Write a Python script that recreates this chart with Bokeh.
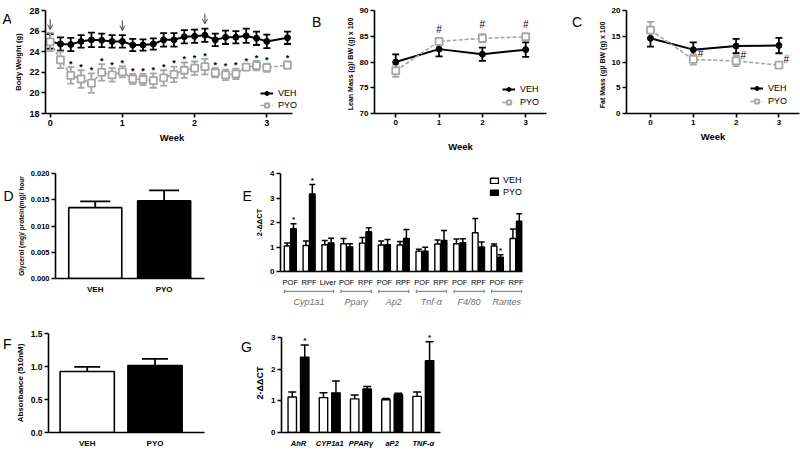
import numpy as np
from bokeh.plotting import figure
from bokeh.models import (ColumnDataSource, Range1d, FixedTicker, Whisker, TeeHead,
                          Arrow, OpenHead, Legend, LegendItem, NumeralTickFormatter)
from bokeh.layouts import row, column
from bokeh.embed import file_html
from bokeh.resources import INLINE
from bokeh.core.properties import value

FONT = "Liberation Sans"
BLACK = "#000000"
GREY = "#a6a6a6"

# ---------------- data ----------------
# Panel A: body weight, daily
a_days = [0, 1, 2, 3, 4, 5, 6, 7, 8, 9, 10, 11, 12, 13, 14, 15, 16, 17, 18, 19, 20, 21, 23]
a_week_ticks = [0, 1, 2, 3]
a_y_ticks = [18, 20, 22, 24, 26, 28]
a_veh = [25.0, 24.75, 24.7, 25.0, 25.15, 25.1, 25.0, 25.0, 24.65, 24.65, 24.75, 25.15,
         25.15, 25.45, 25.5, 25.6, 25.15, 25.4, 25.4, 25.55, 25.3, 25.0, 25.35]
a_veh_err = [0.7, 0.65, 0.65, 0.6, 0.7, 0.65, 0.6, 0.6, 0.6, 0.55, 0.55, 0.65,
             0.65, 0.65, 0.65, 0.65, 0.6, 0.65, 0.6, 0.7, 0.65, 0.65, 0.6]
a_pyo = [24.95, 23.2, 21.7, 21.35, 20.95, 22.0, 21.75, 22.05, 21.35, 21.3, 21.2, 21.45,
         21.8, 22.2, 22.4, 22.55, 21.95, 21.75, 21.85, 22.5, 22.65, 22.45, 22.7]
a_pyo_err = [0.9, 0.8, 0.8, 0.85, 0.95, 0.8, 0.65, 0.55, 0.5, 0.55, 0.7, 0.75,
             0.75, 0.75, 0.65, 0.75, 0.45, 0.5, 0.5, 0.3, 0.45, 0.4, 0.35]
a_pyo_sig = [0, 0, 1, 1, 1, 1, 1, 1, 1, 1, 1, 1, 1, 1, 1, 1, 1, 1, 1, 1, 1, 1, 1]
a_arrow_days = [0, 7, 15]

# Panel B: lean mass
b_weeks = [0, 1, 2, 3]
b_y_ticks = [70, 75, 80, 85, 90]
b_veh = [80.0, 82.5, 81.5, 82.4]
b_veh_err = [1.5, 1.4, 1.3, 1.4]
b_pyo = [78.3, 84.0, 84.6, 84.9]
b_pyo_err = [1.2, 0.6, 0.8, 0.5]
b_pyo_sig = [0, 1, 1, 1]

# Panel C: fat mass
c_weeks = [0, 1, 2, 3]
c_y_ticks = [0, 5, 10, 15, 20]
c_veh = [14.6, 12.4, 13.1, 13.2]
c_veh_err = [1.6, 1.4, 1.4, 1.5]
c_pyo = [16.2, 10.5, 10.2, 9.4]
c_pyo_err = [1.6, 1.0, 1.0, 0.6]
c_pyo_sig = [0, 1, 1, 1]

# Panel D: glycerol release
d_cats = ["VEH", "PYO"]
d_vals = [0.0135, 0.0148]
d_err = [0.0012, 0.0020]
d_y_ticks = [0.0, 0.005, 0.010, 0.015, 0.020]

# Panel E: gene expression by depot
e_tissues = ["POF", "RPF", "Liver", "POF", "RPF", "POF", "RPF", "POF", "RPF", "POF", "RPF", "POF", "RPF"]
e_veh = [1.04, 1.06, 1.09, 1.13, 1.16, 1.08, 1.08, 0.83, 1.12, 1.13, 1.58, 1.04, 1.35]
e_veh_err = [0.12, 0.18, 0.18, 0.22, 0.23, 0.16, 0.14, 0.08, 0.17, 0.20, 0.58, 0.08, 0.38]
e_pyo = [1.75, 3.17, 1.17, 1.00, 1.62, 1.09, 1.35, 0.83, 1.27, 1.18, 1.00, 0.58, 2.05]
e_pyo_err = [0.20, 0.38, 0.19, 0.13, 0.17, 0.22, 0.36, 0.16, 0.40, 0.16, 0.20, 0.10, 0.31]
e_pyo_sig = [1, 1, 0, 0, 0, 0, 0, 0, 0, 0, 0, 1, 0]
e_genes = ["Cyp1a1", "Pparγ", "Ap2", "Tnf-α", "F4/80", "Rantes"]
e_gene_first = [0, 3, 5, 7, 9, 11]
e_gene_last = [2, 4, 6, 8, 10, 12]
e_y_ticks = [0, 1, 2, 3, 4]

# Panel F: absorbance
f_cats = ["VEH", "PYO"]
f_vals = [0.925, 1.015]
f_err = [0.07, 0.10]
f_y_ticks = [0.0, 0.5, 1.0, 1.5]

# Panel G: gene expression
g_genes = ["AhR", "CYP1a1", "PPARγ", "aP2", "TNF-α"]
g_veh = [1.12, 1.10, 1.06, 1.03, 1.14]
g_veh_err = [0.16, 0.15, 0.12, 0.04, 0.14]
g_pyo = [2.37, 1.25, 1.37, 1.19, 2.26]
g_pyo_err = [0.39, 0.37, 0.08, 0.05, 0.60]
g_pyo_sig = [1, 0, 0, 0, 1]
g_y_ticks = [0, 1, 2, 3]

BAR_FILL = {"VEH": "white", "PYO": "black"}


def make_fig(w, h, bl, br, bt, bb, xr, yr, tick_size="8px", label_size="7px"):
    p = figure(width=w, height=h, x_range=Range1d(*xr), y_range=Range1d(*yr),
               output_backend="svg", toolbar_location=None,
               min_border_left=bl, min_border_right=br, min_border_top=bt,
               min_border_bottom=bb)
    p.outline_line_color = None
    p.grid.visible = False
    for ax in p.axis:
        ax.axis_line_width = 1.6
        ax.axis_line_color = BLACK
        ax.major_tick_line_width = 1.6
        ax.major_tick_line_color = BLACK
        ax.major_tick_out = 4
        ax.major_tick_in = 0
        ax.minor_tick_line_color = None
        ax.major_label_text_font = FONT
        ax.major_label_text_font_style = "bold"
        ax.major_label_text_font_size = tick_size
        ax.major_label_text_color = BLACK
        ax.major_label_standoff = 2
        ax.axis_label_text_font = FONT
        ax.axis_label_text_font_style = "bold"
        ax.axis_label_text_font_size = label_size
        ax.axis_label_text_color = BLACK
        ax.axis_label_standoff = 3
    p.xaxis.axis_label_text_font_size = "9.5px"
    return p


def letter_strip(w, h, txt, x, y):
    s = figure(width=w, height=h, x_range=Range1d(0, w), y_range=Range1d(h, 0),
               output_backend="svg", toolbar_location=None, x_axis_type=None, y_axis_type=None,
               min_border_left=0, min_border_right=0, min_border_top=0, min_border_bottom=0)
    s.outline_line_color = None
    s.text(x=[x], y=[y], text=[txt], text_font=value(FONT), text_font_size="14px",
           text_align="left", text_baseline="top", text_color=BLACK)
    return s


def err_bars(p, x, mean, err, color, cap, both=True, lw=1.8):
    m = np.array(mean, dtype=float)
    e = np.array(err, dtype=float)
    src = ColumnDataSource(dict(x=list(x), lo=list(m - e) if both else list(m), hi=list(m + e)))
    wk = Whisker(base="x", lower="lo", upper="hi", source=src, line_color=color, line_width=lw,
                 upper_head=TeeHead(size=cap, line_color=color, line_width=lw),
                 lower_head=TeeHead(size=cap, line_color=color, line_width=lw) if both else None)
    p.add_layout(wk)


def small_legend(p, items, loc, glyph_w=13, glyph_h=10, size="9px", spacing=2, standoff=5):
    leg = Legend(items=items, location=loc)
    leg.background_fill_alpha = 0
    leg.border_line_color = None
    leg.padding = 0
    leg.margin = 0
    leg.spacing = spacing
    leg.glyph_width = glyph_w
    leg.glyph_height = glyph_h
    leg.label_height = 10
    leg.label_standoff = standoff
    leg.label_text_font = FONT
    leg.label_text_font_size = size
    leg.label_text_color = BLACK
    p.add_layout(leg)


def marks(p, xs, ys, txt, size="9px", style="bold"):
    p.text(x=xs, y=ys, text=[txt] * len(xs), text_font=value(FONT), text_font_size=size,
           text_font_style=style, text_align="center", text_baseline="middle", text_color=BLACK)


def timecourse(p, x, veh, veh_err, pyo, pyo_err, cap):
    err_bars(p, x, veh, veh_err, BLACK, cap)
    err_bars(p, x, pyo, pyo_err, GREY, cap)
    l0 = p.line(x, veh, line_color=BLACK, line_width=2)
    s0 = p.scatter(x, veh, marker="circle", size=6, fill_color=BLACK, line_color=BLACK)
    l1 = p.line(x, pyo, line_color=GREY, line_width=1.6, line_dash="4 2")
    s1 = p.scatter(x, pyo, marker="square", size=7, fill_color="white", line_color=GREY, line_width=1.8)
    return [LegendItem(label="VEH", renderers=[l0, s0]), LegendItem(label="PYO", renderers=[l1, s1])]


# ---------------- Panel A ----------------
pA = make_fig(289, 160, 31, 2, 9, 37, (-0.45, 24.07), (18, 28), tick_size="9px", label_size="7.5px")
pA.xaxis.bounds = (-0.45, 23.5)
pA.xaxis.ticker = FixedTicker(ticks=[w * 7 for w in a_week_ticks])
pA.xaxis.major_label_overrides = {w * 7: str(w) for w in a_week_ticks}
pA.yaxis.ticker = FixedTicker(ticks=a_y_ticks)
pA.xaxis.axis_label = "Week"
pA.yaxis.axis_label = "Body Weight (g)"
itemsA = timecourse(pA, a_days, a_veh, a_veh_err, a_pyo, a_pyo_err, 7)
sx = [d for d, s in zip(a_days, a_pyo_sig) if s]
sy = [m + e + 0.32 for m, e, s in zip(a_pyo, a_pyo_err, a_pyo_sig) if s]
marks(pA, sx, sy, "*")
for d in a_arrow_days:
    i = a_days.index(d)
    tip = a_veh[i] + a_veh_err[i] + 0.45
    pA.add_layout(Arrow(end=OpenHead(size=5, line_width=1, line_color="#444444"),
                        x_start=d, y_start=tip + 1.0, x_end=d, y_end=tip,
                        line_width=1, line_color="#444444"))
small_legend(pA, itemsA, (215, 3))

# ---------------- Panel B ----------------
pB = make_fig(233, 160, 52, 9, 10, 47, (-0.49, 3.48), (70, 90))
pB.xaxis.ticker = FixedTicker(ticks=b_weeks)
pB.yaxis.ticker = FixedTicker(ticks=b_y_ticks)
pB.xaxis.axis_label = "Week"
pB.xaxis.axis_label_standoff = 13
pB.yaxis.axis_label = "Lean Mass  (g)/ BW  (g) x 100"
itemsB = timecourse(pB, b_weeks, b_veh, b_veh_err, b_pyo, b_pyo_err, 7)
hx = [w for w, s in zip(b_weeks, b_pyo_sig) if s]
hy = [m + e + 1.8 for m, e, s in zip(b_pyo, b_pyo_err, b_pyo_sig) if s]
marks(pB, hx, hy, "#", size="10px", style="normal")
small_legend(pB, itemsB, (128, 6), spacing=3)

# ---------------- Panel C ----------------
pC = make_fig(218, 160, 44, 1, 8, 37, (-0.56, 3.48), (0, 20))
pC.xaxis.ticker = FixedTicker(ticks=c_weeks)
pC.yaxis.ticker = FixedTicker(ticks=c_y_ticks)
pC.xaxis.axis_label = "Week"
pC.yaxis.axis_label = "Fat  Mass  (g)/ BW  (g) x 100"
itemsC = timecourse(pC, c_weeks, c_veh, c_veh_err, c_pyo, c_pyo_err, 7)
hx = [w + 0.17 for w, s in zip(c_weeks, c_pyo_sig) if s]
hy = [m + 1.1 for m, s in zip(c_pyo, c_pyo_sig) if s]
marks(pC, hx, hy, "#", size="10px", style="normal")
small_legend(pC, itemsC, (124, 7), spacing=3)


def two_bar(w, h, bl, br, bt, bb, xr, yr, cats, vals, err, ticks, fmt, ylabel, ysize, tsize, cap, width):
    p = make_fig(w, h, bl, br, bt, bb, xr, yr, tick_size=tsize, label_size=ysize)
    x = list(range(len(cats)))
    p.vbar(x=x, top=vals, width=width, fill_color=[BAR_FILL[c] for c in cats],
           line_color=BLACK, line_width=1.6)
    err_bars(p, x, vals, err, BLACK, cap, both=False, lw=1.8)
    p.xaxis.ticker = FixedTicker(ticks=x)
    p.xaxis.major_label_overrides = {i: c for i, c in enumerate(cats)}
    p.xaxis.major_tick_line_color = None
    p.xaxis.major_label_text_font_size = "8px"
    p.yaxis.ticker = FixedTicker(ticks=ticks)
    p.yaxis.formatter = NumeralTickFormatter(format=fmt)
    p.yaxis.axis_label = ylabel
    return p


# ---------------- Panel D ----------------
pD = two_bar(216, 152, 39, 26, 13, 34, (-0.577, 1.586), (0, 0.02), d_cats, d_vals, d_err,
             d_y_ticks, "0.000", "Glycerol (mg)/ protein(mg)/ hour", "6.5px", "7.5px", 30, 0.77)

# ---------------- Panel E ----------------
pE = make_fig(278, 129, 25, 8, 13, 13, (-0.52, 12.34), (0, 4), label_size="7.5px")
ei = np.arange(len(e_tissues))
rv = pE.vbar(x=ei - 0.17, top=e_veh, width=0.3, fill_color=BAR_FILL["VEH"], line_color=BLACK, line_width=1.4)
rp = pE.vbar(x=ei + 0.17, top=e_pyo, width=0.3, fill_color=BAR_FILL["PYO"], line_color=BLACK, line_width=1.4)
err_bars(pE, ei - 0.17, e_veh, e_veh_err, BLACK, 6, both=False, lw=1.5)
err_bars(pE, ei + 0.17, e_pyo, e_pyo_err, BLACK, 6, both=False, lw=1.5)
sx = [i + 0.17 for i, s in zip(ei, e_pyo_sig) if s]
sy = [m + e + 0.17 for m, e, s in zip(e_pyo, e_pyo_err, e_pyo_sig) if s]
marks(pE, sx, sy, "*", size="8px")
pE.xaxis.ticker = FixedTicker(ticks=list(range(len(e_tissues))))
pE.xaxis.major_label_overrides = {i: t for i, t in enumerate(e_tissues)}
pE.xaxis.major_tick_line_color = None
pE.xaxis.major_label_text_font_style = "normal"
pE.xaxis.major_label_text_font_size = "7.5px"
pE.yaxis.ticker = FixedTicker(ticks=e_y_ticks)
pE.yaxis.axis_label = "2-ΔΔCT"
small_legend(pE, [LegendItem(label="VEH", renderers=[rv]), LegendItem(label="PYO", renderers=[rp])],
             (209, 74), glyph_w=10, glyph_h=7, size="9px", spacing=2, standoff=4)

pE2 = figure(width=278, height=23, x_range=pE.x_range, y_range=Range1d(23, 0),
             output_backend="svg", toolbar_location=None, x_axis_type=None, y_axis_type=None,
             min_border_left=25, min_border_right=8, min_border_top=0, min_border_bottom=0)
pE2.outline_line_color = None
gf = np.array(e_gene_first) - 0.3
gl = np.array(e_gene_last) + 0.3
n = len(e_genes)
pE2.segment(x0=gf, y0=[1.8] * n, x1=gl, y1=[1.8] * n, line_color="#8c8c8c", line_width=1.3)
pE2.segment(x0=gf, y0=[0] * n, x1=gf, y1=[3.6] * n, line_color="#8c8c8c", line_width=1.3)
pE2.segment(x0=gl, y0=[0] * n, x1=gl, y1=[3.6] * n, line_color="#8c8c8c", line_width=1.3)
pE2.text(x=(np.array(e_gene_first) + np.array(e_gene_last)) / 2, y=[12] * n, text=e_genes,
         text_font=value(FONT), text_font_size="9px", text_font_style="italic", text_color="#6e6e6e",
         text_align="center", text_baseline="middle")

# ---------------- Panel F ----------------
pF = two_bar(218, 138, 35, 26, 21, 12, (-0.571, 1.73), (0, 1.5), f_cats, f_vals, f_err,
             f_y_ticks, "0.0", "Absorbance (510nM)", "8px", "8.5px", 26, 0.8)

# ---------------- Panel G ----------------
pG = make_fig(193, 138, 25, 5, 14, 14, (-0.545, 4.55), (0, 3.12), label_size="9px")
pG.yaxis.bounds = (0, 3)
gi = np.arange(len(g_genes))
pG.vbar(x=gi - 0.2, top=g_veh, width=0.27, fill_color=BAR_FILL["VEH"], line_color=BLACK, line_width=1.4)
pG.vbar(x=gi + 0.2, top=g_pyo, width=0.27, fill_color=BAR_FILL["PYO"], line_color=BLACK, line_width=1.4)
err_bars(pG, gi - 0.2, g_veh, g_veh_err, BLACK, 8, both=False, lw=1.5)
err_bars(pG, gi + 0.2, g_pyo, g_pyo_err, BLACK, 8, both=False, lw=1.5)
sx = [i + 0.2 for i, s in zip(gi, g_pyo_sig) if s]
sy = [m + e + 0.13 for m, e, s in zip(g_pyo, g_pyo_err, g_pyo_sig) if s]
marks(pG, sx, sy, "*", size="8px")
pG.xaxis.ticker = FixedTicker(ticks=list(range(len(g_genes))))
pG.xaxis.major_label_overrides = {i: t for i, t in enumerate(g_genes)}
pG.xaxis.major_tick_line_color = None
pG.xaxis.major_label_text_font_style = "bold italic"
pG.xaxis.major_label_text_font_size = "7.5px"
pG.yaxis.ticker = FixedTicker(ticks=g_y_ticks)
pG.yaxis.axis_label = "2-ΔΔCT"

# ---------------- panel letters ----------------
sA = letter_strip(11, 160, "A", 2, 0)
sB = letter_strip(22, 160, "B", 11.5, 4.7)
sC = letter_strip(27, 160, "C", 16.5, 4.7)
sD = letter_strip(14, 152, "D", 3, 21)
sE = letter_strip(22, 152, "E", 12, 21)
sF = letter_strip(12, 138, "F", 2.5, 4)
sG = letter_strip(22, 138, "G", 10.5, 7)

p = column(
    row(sA, pA, sB, pB, sC, pC),
    row(sD, pD, sE, column(pE, pE2)),
    row(sF, pF, sG, pG),
)

open("out.html", "w").write(file_html(p, INLINE))
